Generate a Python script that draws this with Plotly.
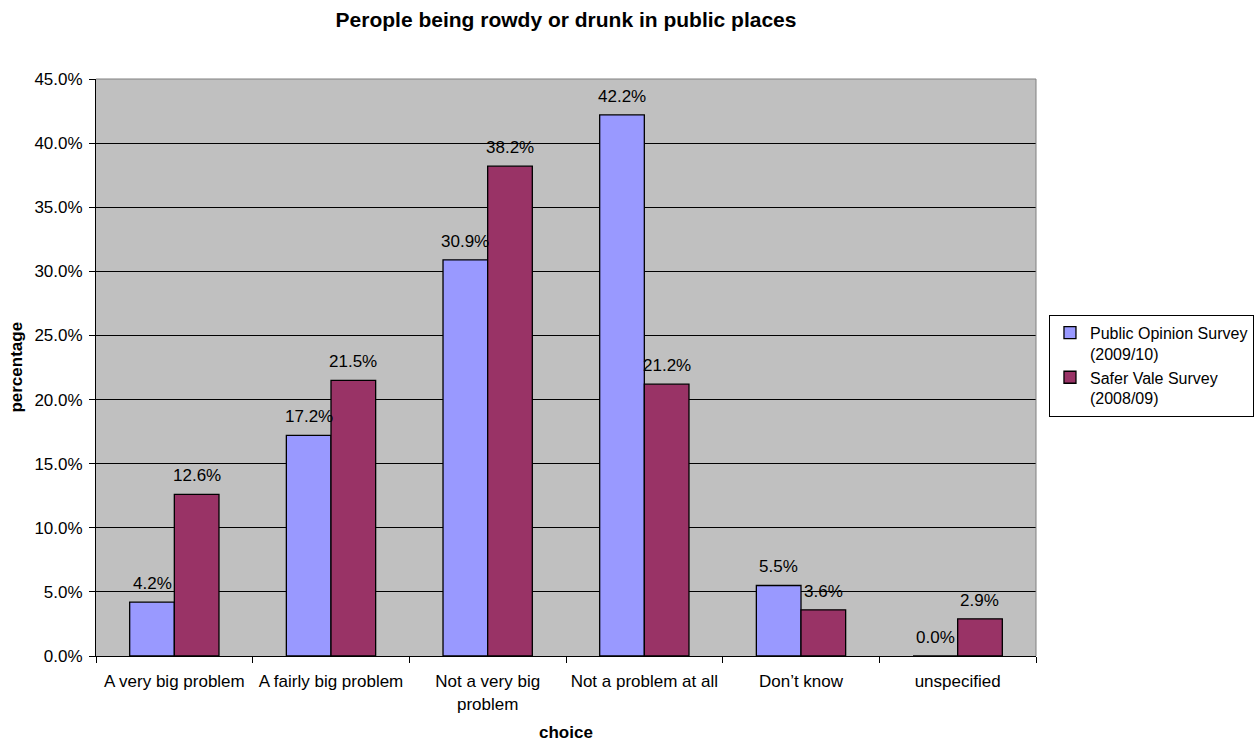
import plotly.graph_objects as go

categories = ["A very big problem", "A fairly big problem", "Not a very big<br>problem",
              "Not a problem at all", "Don\u2019t know", "unspecified"]
public_opinion = [4.2, 17.2, 30.9, 42.2, 5.5, 0.0]
safer_vale = [12.6, 21.5, 38.2, 21.2, 3.6, 2.9]
tick_vals = [0, 5, 10, 15, 20, 25, 30, 35, 40, 45]
tick_text = [f"{v:.1f}%" for v in tick_vals]

font = "Liberation Sans, Arial, sans-serif"
FS = 17
W, H = 1255, 744
ML, MR, MT, MB = 96, 219, 79, 88
BARGAP = 0.43

fig = go.Figure()
fig.add_trace(go.Bar(
    x=categories, y=public_opinion, name="Public Opinion Survey<br>(2009/10)",
    marker=dict(color="#9999FF", line=dict(color="black", width=1.3)),
))
fig.add_trace(go.Bar(
    x=categories, y=safer_vale, name="Safer Vale Survey<br>(2008/09)",
    marker=dict(color="#993366", line=dict(color="black", width=1.3)),
))

# data labels placed over each bar (offset within the group)
cat_w = (W - ML - MR) / len(categories)
half = cat_w * (1 - BARGAP) / 4
for series, sign in ((public_opinion, -1), (safer_vale, 1)):
    for c, v in zip(categories, series):
        fig.add_annotation(x=c, y=v, xref="x", yref="y", text=f"{v:.1f}%",
                           showarrow=False, xanchor="center", yanchor="bottom",
                           xshift=sign * half, yshift=7,
                           font=dict(size=FS, color="black", family=font))

fig.update_layout(
    width=W, height=H,
    paper_bgcolor="white", plot_bgcolor="#C0C0C0",
    font=dict(family=font, size=FS, color="black"),
    margin=dict(l=ML, r=MR, t=MT, b=MB, autoexpand=False),
    barmode="group", bargap=BARGAP, bargroupgap=0,
    title=dict(text="<b>Perople being rowdy or drunk in public places</b>",
               x=0.5, xanchor="center", xref="paper", y=0.983, yanchor="top",
               font=dict(size=21, family=font)),
    xaxis=dict(
        automargin=False,
        showline=True, linecolor="black", linewidth=1, mirror=False,
        ticks="outside", ticklen=6, tickcolor="black", ticklabelstandoff=10,
        tickson="boundaries", showgrid=False, tickfont=dict(size=FS),
    ),
    yaxis=dict(
        automargin=False,
        range=[0, 45], tickvals=tick_vals, ticktext=tick_text,
        showline=True, linecolor="black", linewidth=1,
        ticks="outside", ticklen=6, tickcolor="black", ticklabelstandoff=3,
        showgrid=True, gridcolor="black", gridwidth=1,
        tickfont=dict(size=FS), zeroline=False,
    ),
    legend=dict(
        x=1.0138, xanchor="left", y=0.503, yanchor="middle",
        bordercolor="black", borderwidth=1, bgcolor="white",
        font=dict(size=16), traceorder="normal", itemwidth=30,
        tracegroupgap=0, valign="top",
    ),
)
fig.add_annotation(text="<b>choice</b>", xref="paper", yref="paper",
                   x=0.5, y=-0.133, xanchor="center", yanchor="middle",
                   showarrow=False, font=dict(size=FS))
fig.add_annotation(text="<b>percentage</b>", xref="paper", yref="paper",
                   x=-0.085, y=0.5, xanchor="center", yanchor="middle",
                   textangle=-90, showarrow=False, font=dict(size=FS))
fig.add_shape(type="line", xref="paper", yref="paper", x0=1, x1=1, y0=0, y1=1,
              line=dict(color="#808080", width=1))
fig.add_shape(type="line", xref="paper", yref="paper", x0=0, x1=1, y0=1, y1=1,
              line=dict(color="#808080", width=1))

fig.write_html("out.html", config={"displayModeBar": False},
               post_script="document.body.style.margin='0';")
